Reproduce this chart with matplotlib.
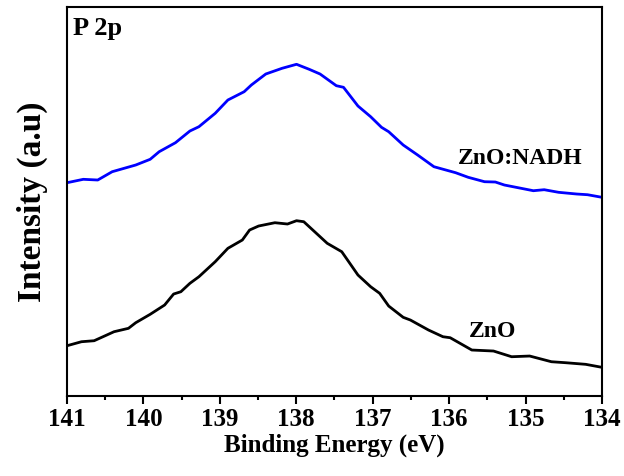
"""P 2p XPS spectra of ZnO and ZnO:NADH."""
import matplotlib
matplotlib.use("Agg")
import matplotlib.pyplot as plt
from matplotlib.ticker import MultipleLocator

# binding energy (eV) and intensity (a.u.)
BE_NADH = [141.000, 140.787, 140.598, 140.409, 140.101, 139.912, 139.794, 139.581,
           139.392, 139.274, 139.061, 138.895, 138.682, 138.588, 138.399, 138.186,
           137.997, 137.831, 137.689, 137.476, 137.382, 137.193, 137.027, 136.885,
           136.791, 136.601, 136.412, 136.199, 135.915, 135.750, 135.537, 135.395,
           135.277, 134.898, 134.756, 134.567, 134.331, 134.189, 134.000]
I_NADH = [213.3, 216.7, 216.0, 224.3, 231.0, 236.7, 244.3, 253.3,
          265.0, 269.3, 282.7, 296.0, 304.3, 311.0, 322.0, 327.7,
          331.7, 326.7, 322.0, 310.3, 308.7, 290.0, 279.3, 268.7,
          264.3, 251.0, 241.0, 229.3, 223.3, 218.7, 214.3, 214.0,
          211.0, 205.3, 206.3, 203.7, 202.0, 201.3, 198.7]

BE_ZNO = [141.000, 140.811, 140.645, 140.480, 140.385, 140.196, 140.101, 139.912,
          139.723, 139.605, 139.510, 139.392, 139.274, 139.061, 138.895, 138.706,
          138.611, 138.493, 138.280, 138.115, 137.997, 137.902, 137.595, 137.405,
          137.193, 137.027, 136.909, 136.791, 136.601, 136.507, 136.270, 136.081,
          135.986, 135.703, 135.419, 135.182, 134.946, 134.662, 134.473, 134.213,
          134.000]
I_ZNO = [50.3, 54.3, 55.3, 61.0, 64.3, 67.7, 73.3, 81.7,
         91.0, 102.0, 104.3, 112.7, 119.3, 134.3, 147.7, 156.0,
         166.0, 170.0, 173.3, 172.0, 175.3, 174.3, 152.7, 144.3,
         121.0, 109.3, 102.7, 90.0, 78.7, 76.0, 66.0, 59.3,
         58.3, 46.0, 45.0, 39.3, 40.0, 34.3, 33.3, 31.7,
         28.7]

plt.rcParams["font.family"] = ["Liberation Serif", "DejaVu Serif"]
plt.rcParams["font.weight"] = "bold"

fig = plt.figure(figsize=(6.24, 4.76), dpi=100)
ax = fig.add_axes([0.1074, 0.168, 0.8573, 0.8173])

ax.plot(BE_NADH, I_NADH, color="#0000ff", linewidth=2.0)
ax.plot(BE_ZNO, I_ZNO, color="black", linewidth=2.0)

ax.set_xlim(141, 134)
ax.set_ylim(0, 389)
ax.xaxis.set_major_locator(MultipleLocator(1))
ax.xaxis.set_minor_locator(MultipleLocator(0.5))
ax.set_yticks([])
ax.tick_params(axis="x", which="major", direction="out", length=5.5, width=1.5,
               labelsize=18, pad=3)
ax.tick_params(axis="x", which="minor", direction="out", length=3, width=1.5)
for s in ax.spines.values():
    s.set_linewidth(1.5)

ax.set_xlabel("Binding Energy (eV)", fontsize=18, fontweight="bold", labelpad=2)
ax.set_ylabel("Intensity (a.u)", fontsize=24, fontweight="bold", labelpad=14)

ax.text(0.012, 0.975, "P 2p", transform=ax.transAxes, fontsize=19,
        fontweight="bold", va="top", ha="left")
ax.text(135.07, 238, "ZnO:NADH", fontsize=17, fontweight="bold", ha="center", va="center")
ax.text(135.43, 65, "ZnO", fontsize=17, fontweight="bold", ha="center", va="center")

fig.savefig("out.png", dpi=100)
